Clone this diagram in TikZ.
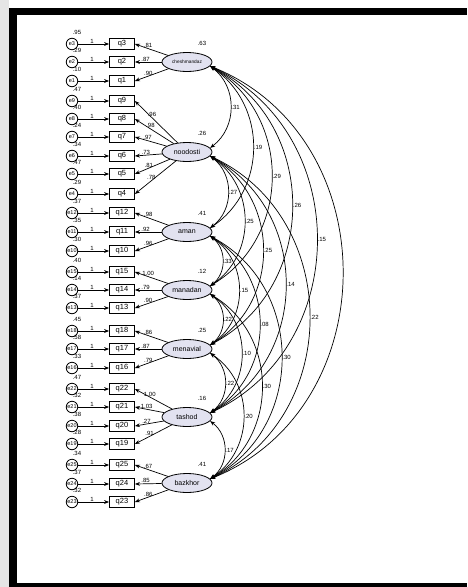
\documentclass[tikz,border=0pt]{standalone}
\usepackage{fontspec}
\setmainfont{Liberation Sans}
\usetikzlibrary{arrows.meta,shapes.geometric,positioning}

\definecolor{latentfill}{RGB}{226,226,240}

\begin{document}
\begin{tikzpicture}[x=1pt, y=-1pt,
    item/.style={draw, thick, minimum width=25pt, minimum height=10.5pt, inner sep=0pt,
      font=\fontsize{7.5}{7.5}\selectfont},
    factor/.style={draw, thick, ellipse, fill=latentfill, minimum width=50pt, minimum height=19pt,
      inner sep=0pt, font=\fontsize{7}{7}\selectfont},
    err/.style={draw, thick, circle, fill=white, minimum size=11.5pt, inner sep=0pt,
      font=\fontsize{5.5}{5.5}\selectfont},
    est/.style={inner sep=0.5pt, font=\fontsize{6}{6}\selectfont},
    arrow/.style={-{Stealth[length=5pt, width=3.8pt]}, line width=0.7pt},
    covarrow/.style={{Stealth[length=5pt, width=3.8pt]}-{Stealth[length=5pt, width=3.8pt]}, line width=0.7pt},
    ]
    \useasboundingbox (0,0) rectangle (467,587);
    % frame
    \fill[gray!20] (0,0) rectangle (9,587);
    \fill[black] (9,8) rectangle (467,587);
    \fill[white] (17,15) rectangle (467,583);

    % factors
    \node[factor, font=\fontsize{4.8}{5}\selectfont] (chesh) at (187,62) {cheshmandaz};
    \node[factor] (nood) at (187,152) {noodosti};
    \node[factor] (aman) at (187,232) {aman};
    \node[factor] (manad) at (187,290) {manadan};
    \node[factor] (menav) at (187,349) {menavial};
    \node[factor] (taah) at (187,417) {tashod};
    \node[factor] (bazk) at (187,483) {bazkhor};

    % factor variances
    \foreach \f/\v in {chesh/.63, nood/.26, aman/.41, manad/.12, menav/.25, taah/.16, bazk/.41}
      \node[est] at ([shift={(15,-19)}]\f.center) {\v};

    % items and error terms
    \foreach \q/\y/\v in {3/44/.95, 2/62/.29, 1/81/.10, 9/101/.47, 8/119/.40, 7/137/.24,
        6/156/.34, 5/174/.47, 4/194/.29, 12/213/.37, 11/232/.35, 10/251/.30, 15/272/.40,
        14/290/.14, 13/308/.37, 18/331/.45, 17/349/.58, 16/368/.33, 22/389/.47, 21/407/.32,
        20/426/.38, 19/444/.28, 25/465/.34, 24/484/.37, 23/502/.32}{
      \node[item] (q\q) at (122,\y) {q\q};
      \node[err] (e\q) at (72,\y) {e\q};
      \node[est] at ([shift={(5,-12)}]e\q.center) {\v};
      \draw[arrow] (e\q) -- node[est, pos=.45, above] {1} (q\q);
    }

    % loadings
    \foreach \f/\q/\l in {chesh/3/.81, chesh/2/.87, chesh/1/.90,
        nood/9/.96, nood/8/.98, nood/7/.97, nood/6/.73, nood/5/.81, nood/4/.78,
        aman/12/.98, aman/11/.92, aman/10/.96,
        manad/15/1.00, manad/14/.79, manad/13/.90,
        menav/18/.86, menav/17/.87, menav/16/.79,
        taah/22/1.00, taah/21/1.03, taah/20/.27, taah/19/.91,
        bazk/25/.67, bazk/24/.85, bazk/23/.86}
      \draw[arrow] (\f) -- node[est, pos=.6, above] {\l} (q\q.east);

    % covariances
    \foreach \a/\b/\k/\c in {chesh/nood/1/.31, chesh/aman/2/.19, chesh/manad/3/.29,
        chesh/menav/4/.26, chesh/taah/5/.15, chesh/bazk/6/{},
        nood/aman/1/.27, nood/manad/2/.25, nood/menav/3/.25, nood/taah/4/.14, nood/bazk/5/.22,
        aman/manad/1/.33, aman/menav/2/.15, aman/taah/3/.08, aman/bazk/4/.30,
        manad/menav/1/.22, manad/taah/2/.10, manad/bazk/3/.30,
        menav/taah/1/.22, menav/bazk/2/.20, taah/bazk/1/.17}{
      \pgfmathsetmacro\bend{50+3*\k}
      \pgfmathsetmacro\loose{1.05+0.022*\k}
      \draw[covarrow] (\a.-10) to[bend left=\bend, looseness=\loose]
        node[est, pos=.5, right] {\c} (\b.10);
    }
\end{tikzpicture}
\end{document}
